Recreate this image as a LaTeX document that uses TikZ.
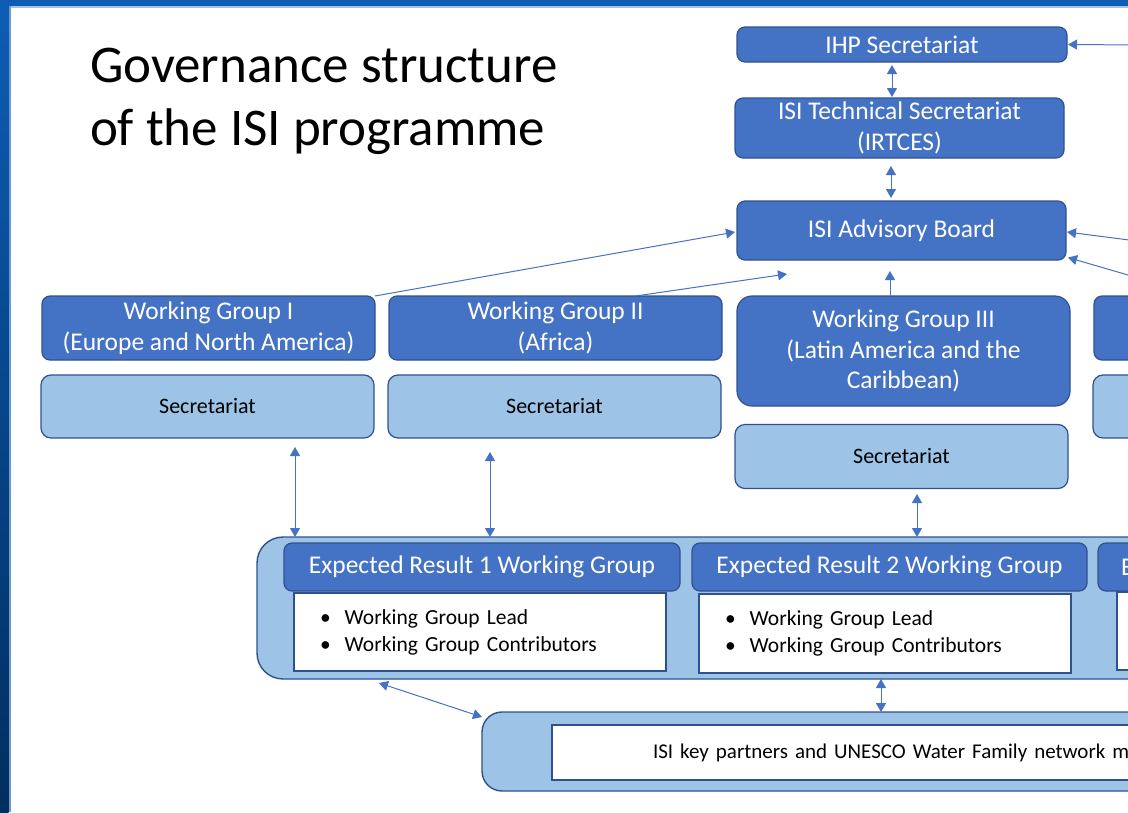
\documentclass[tikz,border=0pt]{standalone}
\usepackage{fontspec}
\setmainfont{Carlito}
\usetikzlibrary{arrows.meta, positioning}
\definecolor{hdark}{HTML}{4472C4}
\definecolor{hedge}{HTML}{2F528F}
\definecolor{hlight}{HTML}{9DC3E6}
\definecolor{frametop}{HTML}{0D5DB5}
\definecolor{framebot}{HTML}{002F5F}
\definecolor{framelite}{HTML}{6A9AD0}
\tikzset{
    darkbox/.style ={rectangle, rounded corners=8pt, draw=hedge, line width=1.2pt, fill=hdark,
                     text=white, align=center, font=\fontsize{25.5}{30.5}\selectfont},
    lightbox/.style ={rectangle, rounded corners=10pt, draw=hedge, line width=1.2pt, fill=hlight,
                      text=black, align=center, font=\fontsize{22}{26}\selectfont},
    listbox/.style ={rectangle, draw=hedge, line width=1.2pt, fill=white, text=black,
                     align=left, font=\fontsize{21.5}{27}\selectfont},
    bandbox/.style ={rectangle, rounded corners=26pt, draw=hedge, line width=1.4pt, fill=hlight},
    linkarrow/.style ={draw=hdark, line width=1pt, -{Triangle[width=10pt,length=9pt]}},
    duplex/.style ={linkarrow, {Triangle[width=10pt,length=9pt]}-{Triangle[width=10pt,length=9pt]}}
}
\newcommand{\wgitem}{\textbullet\hspace{14pt}}

\begin{document}
\begin{tikzpicture}[x=1pt, y=-1pt, inner sep=0pt, outer sep=0pt]
    \useasboundingbox (0,0) rectangle (1128,812);
    \clip (0,0) rectangle (1128,812);

    % slide frame
    \shade[top color=frametop, bottom color=framebot] (0,0) rectangle (8.5,812);
    \fill[framelite] (8.5,6) rectangle (11,812);
    \fill[frametop] (0,0) rectangle (1128,6);
    \fill[framelite!60] (11,6) rectangle (1128,7.5);

    % title
    \node[anchor=base west, align=left, font=\fontsize{53}{63}\selectfont] (title) at (90,145)
        {Governance structure\\of the ISI programme};

    % top of the structure
    \node[darkbox, minimum width=330pt, minimum height=35pt] (ihp) at (902,44.5) {IHP Secretariat};
    \node[darkbox, minimum width=329pt, minimum height=60pt] (tech) at (899.5,128)
        {ISI Technical Secretariat\\(IRTCES)};
    \node[darkbox, minimum width=329pt, minimum height=59pt] (board) at (901.5,230.5) {ISI Advisory Board};

    % working groups and their secretariats
    \node[darkbox, minimum width=333pt, minimum height=64pt] (wg1) at (208.5,328)
        {Working Group I\\(Europe and North America)};
    \node[darkbox, minimum width=333pt, minimum height=64pt] (wg2) at (555.5,328)
        {Working Group II\\(Africa)};
    \node[darkbox, rounded corners=15pt, minimum width=333pt, minimum height=110pt] (wg3) at (903.5,351)
        {Working Group III\\(Latin America and the\\Caribbean)};
    \node[darkbox, minimum width=333pt, minimum height=64pt] (wg4) at (1260.5,328) {};

    \node[lightbox, minimum width=333pt, minimum height=63pt] (sec1) at (207.5,406.5) {Secretariat};
    \node[lightbox, minimum width=333pt, minimum height=63pt] (sec2) at (554.5,406.5) {Secretariat};
    \node[lightbox, minimum width=333pt, minimum height=64pt] (sec3) at (901.5,456.5) {Secretariat};
    \node[lightbox, minimum width=333pt, minimum height=63pt] (sec4) at (1259.5,406.5) {};

    % expected result working groups
    \node[bandbox, minimum width=1400pt, minimum height=142pt] (erband) at (957,608) {};
    \node[darkbox, minimum width=396pt, minimum height=48pt] (er1) at (482,567)
        {Expected Result 1 Working Group};
    \node[listbox, minimum width=372pt, minimum height=78pt, text width=320pt] (er1list) at (480,632)
        {\wgitem Working Group Lead\\ \wgitem Working Group Contributors};
    \node[darkbox, minimum width=395pt, minimum height=48pt] (er2) at (889.5,567)
        {Expected Result 2 Working Group};
    \node[listbox, minimum width=372pt, minimum height=79pt, text width=320pt] (er2list) at (885,633.5)
        {\wgitem Working Group Lead\\ \wgitem Working Group Contributors};
    \node[darkbox, align=left, minimum width=396pt, minimum height=48pt,
          text width=350pt] (er3) at (1296,567) {E};
    \node[listbox, minimum width=372pt, minimum height=78pt] (er3list) at (1303,631) {};

    % partners
    \node[bandbox, rounded corners=20pt, minimum width=1118pt, minimum height=79pt] (partband) at (1041,751.5) {};
    \node[listbox, font=\fontsize{21}{26}\selectfont, minimum width=948pt, minimum height=55pt,
          text width=746pt] (partners) at (1026,752.5)
        {ISI key partners and UNESCO Water Family network m};

    % connectors
    \coordinate (ihpin) at (1140,45);
    \coordinate (boardin1) at (1140,241.4);
    \coordinate (boardin2) at (1140,278.5);
    \coordinate (wg2tip) at (787,274);
    \coordinate (wg3tip) at (890,271);

    \draw[linkarrow] (ihpin) -- ([xshift=1pt]ihp.east);
    \draw[duplex, shorten <=3pt, shorten >=1pt] ([xshift=-10pt]ihp.south) -- ([xshift=-10pt]ihp.south |- tech.north);
    \draw[duplex, shorten <=8pt, shorten >=3pt] ([xshift=-8.5pt]tech.south) -- ([xshift=-8.5pt]tech.south |- board.north);

    \draw[linkarrow] (wg1.north east) -- ([xshift=-2pt, yshift=-1.5pt]board.west);
    \draw[linkarrow] ([xshift=80pt]wg2.north) -- (wg2tip);
    \draw[linkarrow] (wg3.north -| wg3tip) -- (wg3tip);
    \draw[linkarrow] (boardin1) -- ([xshift=1pt, yshift=-1.5pt]board.east);
    \draw[linkarrow] (boardin2) -- ([shift={(2pt,2.5pt)}]board.south east);

    \draw[duplex, shorten <=9pt] ([xshift=87.5pt]sec1.south) -- ([xshift=87.5pt]sec1.south |- erband.north);
    \draw[duplex, shorten <=14pt] ([xshift=-64.5pt]sec2.south) -- ([xshift=-64.5pt]sec2.south |- erband.north);
    \draw[duplex, shorten <=5.5pt] ([xshift=15.5pt]sec3.south) -- ([xshift=15.5pt]sec3.south |- erband.north);

    \draw[duplex] ([shift={(122pt,-4pt)}]erband.south west) -- ([yshift=-5pt]partband.north west);
    \draw[duplex] ([xshift=-4pt]er2list.south |- erband.south) -- ([xshift=-4pt]er2list.south |- partband.north);
\end{tikzpicture}
\end{document}
